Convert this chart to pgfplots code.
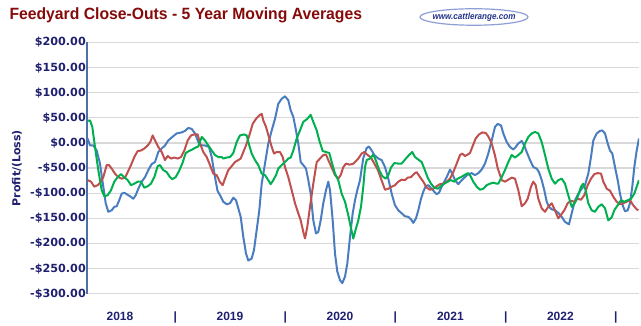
\documentclass[border=0pt]{standalone}
\usepackage{pgfplots}
\pgfplotsset{compat=1.18}
\usepackage{fontspec}
\setmainfont{DejaVu Sans}
\newfontfamily\lib{Liberation Sans}
\usetikzlibrary{shapes.geometric}
\definecolor{navy}{HTML}{1F2070}
\definecolor{titlered}{HTML}{850A0A}
\definecolor{sblue}{HTML}{4A7DC0}
\definecolor{sred}{HTML}{C0504D}
\definecolor{sgreen}{HTML}{00B050}
\definecolor{gridgray}{HTML}{D9D9D9}
\definecolor{axblue}{HTML}{4F6FA8}
\definecolor{wmblue}{HTML}{8E9FD8}
\definecolor{wmtext}{HTML}{24338A}
\begin{document}
\begin{tikzpicture}[x=1pt,y=1pt]
\path[use as bounding box] (0,0) rectangle (641,326);
\node[anchor=base west, inner sep=0, text=titlered, font=\lib\bfseries\fontsize{16.3}{17}\selectfont] at (9.3,306.7) {\scalebox{0.965}[1]{Feedyard Close-Outs - 5 Year Moving Averages}};
\node[draw=wmblue, line width=1.2pt, ellipse, fill=white, minimum width=108pt, minimum height=16.5pt, inner sep=0pt] at (474,309) {};
\node[inner sep=0pt, text=wmtext, font=\lib\bfseries\itshape\fontsize{9}{9}\selectfont] at (474,309) {\scalebox{0.9}[1]{www.cattlerange.com}};
\begin{axis}[
  at={(87pt,32.3pt)}, anchor=south west,
  scale only axis, width=552pt, height=251.2pt,
  xmin=87, xmax=639, ymin=-300, ymax=200,
  axis x line*=bottom, axis y line*=left,
  x axis line style={draw=gridgray, line width=1.2pt},
  y axis line style={draw=axblue, line width=1.2pt},
  ymajorgrids, grid style={draw=gridgray, line width=1.2pt},
  major tick length=0pt,
  ytick={-300,-250,-200,-150,-100,-50,0,50,100,150,200},
  yticklabels={-\$300.00,-\$250.00,-\$200.00,-\$150.00,-\$100.00,-\$50.00,\$0.00,\$50.00,\$100.00,\$150.00,\$200.00},
  yticklabel style={font=\bfseries\fontsize{11.2}{12}\selectfont, text=navy, inner sep=1pt},
  xtick={120,175.4,230,285.4,340,395.4,450.4,505.7,560.4,615.7},
  xticklabels={2018,|,2019,|,2020,|,2021,|,2022,|},
  xticklabel style={font=\lib\bfseries\fontsize{12}{12}\selectfont, text=navy, anchor=base, yshift=-27.3pt, inner sep=0pt},
  ylabel={Profit/(Loss)},
  ylabel style={at={(axis description cs:-0.1268,0.5)}, anchor=center, font=\bfseries\fontsize{11}{12}\selectfont, text=navy},
  every axis plot/.append style={line width=2pt, line join=round},
]
\addplot[sblue] coordinates {
(87.7,8.6)(90,-5)(93.3,-5)(96.7,-15)(100,-41)(103.3,-87)(105.7,-120)(108.3,-137)(111.7,-134)(114.3,-127)(116.7,-126)(119,-115)(121.7,-101)(124.3,-99)(126.7,-102)(130,-106)(133.3,-111)(135.7,-104)(138.3,-91)(141.7,-77)(145,-68)(148.3,-54)(151.7,-42)(155,-38)(158.3,-18)(161.7,-11)(165,-5)(168.3,5)(172.3,12)(176.7,19)(181.7,21)(185,24)(188.3,30)(191.7,28)(195,19)(198.3,2)(201.7,-5)(205,-5)(209,-8)(211.7,-28)(215,-68)(217.5,-95)
(220,-104)(223.3,-117)(226.7,-122)(230,-120)(233.3,-109)(236,-114)(238.3,-130)(240.7,-147)(243.3,-187)(246,-220)(248.3,-234)(251.7,-230)(254,-213)(256.7,-173)(259.3,-134)(261.7,-81)(265,-41)(268.3,-1)(271.7,25)(275,48)(278.3,78)(281.7,88)(285,93)(288.3,85)(290.7,65)(293.3,52)(296,25)(298.3,-1)(300.7,-38)(303.3,-44)(306,-51)(308.3,-74)(310.7,-101)(313.3,-154)(316,-180)(318.3,-177)(320.7,-154)(323.3,-120)(326,-94)(328.3,-77)(330,-94)(332.7,-154)(335,-220)(337.3,-256)(340,-273)(342.3,-279)(345,-266)(347.3,-240)(350,-187)(352.7,-140)(355,-114)(357.3,-94)(360,-74)(363.3,-30)(366.7,-10)(369,-7)(371.7,-15)(374.3,-24)(378.3,-31)(381.7,-34)(385,-48)(388.3,-71)(391.7,-101)(395,-124)(398.3,-134)(401.7,-140)(405,-146)(408.3,-147)(411,-152)(413.3,-159)(416,-150)(418.3,-134)(421,-111)(423.3,-97)(425.7,-86)(428.3,-84)(431.7,-91)(434.3,-97)(436.7,-102)(439,-99)(441.7,-87)(444.3,-77)(446.7,-68)(450,-53)(452.3,-61)(455,-74)(458.3,-82)(461.7,-74)(465,-68)(468.3,-62)(471.7,-60)(475,-64)(478.3,-60)(481.7,-53)(485,-41)(488.3,-21)(491.7,5)(495,32)(497.7,38)(501,35)(503.3,19)(506.7,2)(510,-8)(513.3,-13)(515.7,-8)(518.3,-1)(521.7,4)(524.3,-5)(526.7,-18)(530,-34)(533.3,-48)(536.7,-51)(539,-58)(541.7,-74)(544.3,-94)(546.7,-117)(549,-127)(551.7,-132)(555,-134)(558.3,-139)(561.7,-147)(565,-157)(569,-162)(571.7,-140)(575,-114)(578.3,-101)(581.7,-91)(585,-84)(588.3,-61)(591,-28)(593.3,5)(596.7,19)(600,24)(602.3,25)(605,19)(607.7,-1)(610,-15)(612.3,-21)(615,-48)(617.7,-74)(620,-101)(622.7,-124)(625,-136)(627.7,-134)(630,-120)(632.3,-87)(634.3,-48)(636.7,-15)(639,9)
};
\addplot[sred] coordinates {
(87.7,-74)(91,-77)(94.3,-87)(97.7,-84)(101,-77)(103.3,-68)(106.7,-44)(109,-44)(111.7,-51)(115,-61)(118.3,-68)(121.7,-71)(125,-69)(127.7,-58)(131,-44)(134.3,-28)(137.7,-16)(141,-15)(144.3,-11)(147.7,-5)(150.3,2)(152.7,15)(155,5)(158.3,-8)(161.7,-18)(165,-34)(167.7,-26)(171,-31)(174.3,-29)(177.7,-31)(181,-28)(184.3,-15)(187.7,5)(191,15)(194.3,17)(197.7,17)(200,-1)(203.3,-18)(206.7,-28)(210,-44)(213.3,-61)(216.7,-64)(220,-78)(222.7,-84)(225,-71)(228.3,-54)(231.7,-46)(235,-38)(238.3,-34)(240.7,-31)(243.3,-18)(246,-5)(249.3,15)(252.7,38)(256,48)(259.3,55)(261.7,58)(263.3,45)(266,32)(269.3,9)(271.7,-8)(274,-21)(276.7,-18)(280,-18)(282.7,-28)(285,-48)(288.3,-68)(291.7,-94)(295,-120)(298.3,-140)(300.7,-154)(303.3,-177)(305,-190)(307.3,-167)(310,-127)(313.3,-81)(316.7,-38)(320,-31)(323.3,-24)(326,-23)(328.3,-34)(331.7,-49)(335,-64)(338.3,-71)(340.7,-64)(343.3,-48)(346,-41)(349.3,-43)(352.7,-42)(355,-38)(358.3,-31)(361.7,-21)(364.3,-18)(367.7,-24)(371,-29)(374.3,-41)(377.7,-53)(381,-71)(385,-93)(388.3,-91)(391.7,-87)(395,-84)(398.3,-77)(401.7,-73)(405,-74)(407.7,-69)(411,-68)(414.3,-61)(416.7,-58)(420,-68)(423.3,-77)(426.7,-89)(430,-93)(433.3,-91)(436.7,-86)(440,-82)(443.3,-81)(446.7,-77)(450,-71)(453.3,-58)(456.7,-41)(460,-24)(462.3,-21)(465,-26)(467.7,-23)(470,-20)(472.3,-8)(475.7,9)(479,17)(482.3,21)(485.7,20)(488.3,13)(491.7,-1)(495,-25)(497.7,-50)(501.7,-74)(505,-77)(508.3,-73)(511.7,-69)(515,-71)(518.3,-94)(521.7,-126)(525,-120)(527.7,-111)(531,-87)(533.3,-77)(535.7,-84)(538.3,-111)(541.7,-130)(545,-137)(548.3,-127)(551.7,-120)(555,-134)(558.3,-150)(561,-143)(564.3,-134)(567.7,-120)(571,-115)(574.3,-117)(577.7,-111)(581,-113)(584.3,-104)(587.7,-84)(591,-71)(594.3,-62)(597.7,-60)(601,-61)(603.3,-77)(606.7,-91)(610,-95)(613.3,-107)(616.7,-117)(620,-122)(623.3,-120)(626.7,-117)(630,-114)(633.3,-124)(636.7,-132)(638.3,-134)
};
\addplot[sgreen] coordinates {
(87.7,44)(90,45)(92.3,32)(95,-8)(98.3,-54)(101.7,-94)(104.3,-106)(107.7,-104)(111,-94)(114.3,-77)(117.7,-68)(121,-62)(124.3,-68)(127.7,-74)(131,-84)(134.3,-81)(137.7,-77)(141,-77)(144.3,-89)(147.7,-86)(151,-81)(154.3,-68)(157.7,-46)(160,-44)(163.3,-54)(166.7,-58)(170,-68)(172.3,-72)(175.7,-68)(179,-56)(182.3,-41)(185.7,-20)(189,-16)(192.3,-13)(195.7,-9)(198.3,-7)(201.7,12)(205,5)(208.3,-5)(211.7,-15)(215,-24)(218.3,-28)(221.7,-28)(223.3,-31)(226.7,-29)(230,-28)(233.3,-20)(236.7,2)(240,15)(244,17)(246.7,15)(249.3,-5)(251.7,-21)(255,-34)(258.3,-44)(261.7,-61)(265,-64)(268.3,-74)(270.7,-82)(273.3,-74)(276,-64)(278.3,-51)(281.7,-44)(285,-38)(288.3,-31)(290.7,-29)(293.3,-15)(296.7,9)(300,25)(303.3,42)(307.3,48)(310.7,56)(313.3,42)(316.7,25)(319.3,5)(322.7,-16)(326,-18)(329.3,-20)(331.7,-38)(335,-61)(338.3,-74)(341.7,-101)(345,-117)(348.3,-144)(350.7,-167)(353.3,-190)(356,-170)(358.3,-154)(361,-127)(363.3,-87)(365,-48)(366.7,-34)(370,-31)(373.3,-23)(375.7,-34)(379,-53)(382.3,-66)(385.7,-71)(388.3,-64)(391,-49)(394.3,-40)(398.3,-41)(401.7,-41)(405,-33)(409,-24)(412.3,-18)(415,-28)(418.3,-33)(421.7,-38)(424.3,-51)(427.7,-69)(431,-81)(434.3,-89)(437.7,-91)(441,-86)(444.3,-81)(447.7,-77)(451,-74)(454.3,-77)(457.7,-71)(461,-68)(464.3,-64)(467.7,-60)(470,-64)(473.3,-77)(476.7,-87)(480,-93)(483.3,-91)(486.7,-84)(490,-81)(493.3,-79)(496.7,-81)(498.3,-81)(501.7,-68)(505,-54)(508.3,-38)(511.7,-24)(515,-29)(518.3,-24)(521.7,-18)(525,-1)(528.3,12)(531.7,19)(535,22)(538.3,19)(541.7,2)(545,-24)(548.3,-51)(551.7,-71)(555,-81)(558.3,-74)(561.7,-71)(565,-81)(568.3,-104)(571.7,-127)(575,-119)(578.3,-104)(581,-87)(583.3,-81)(585.7,-94)(588.3,-120)(591.7,-134)(595,-137)(598.3,-127)(601.7,-122)(605,-130)(608.3,-154)(611.7,-148)(614.3,-134)(617.7,-124)(621,-114)(624.3,-117)(627.7,-114)(631,-111)(634.3,-101)(636.7,-87)(639,-74)
};
\end{axis}
\end{tikzpicture}
\end{document}
